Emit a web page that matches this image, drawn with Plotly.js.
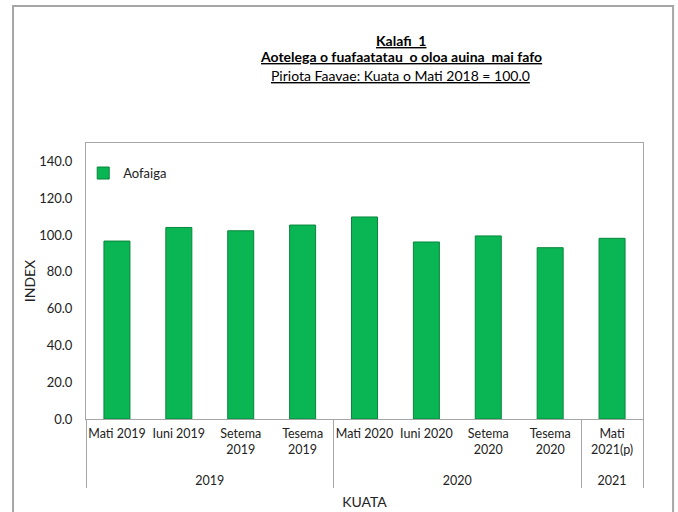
<!DOCTYPE html>
<html><head><meta charset="utf-8">
<script src="https://cdn.plot.ly/plotly-3.0.1.min.js"></script>
<style>body{margin:0;padding:0;background:#fff}#c{width:678px;height:512px}</style>
</head><body><div id="c"></div>
<script>
const years = ["2019","2019","2019","2019","2020","2020","2020","2020","2021"];
const quarters = ["Mati 2019","Iuni 2019","Setema<br>2019","Tesema<br>2019","Mati 2020","Iuni 2020","Setema<br>2020","Tesema<br>2020","Mati<br>2021(p)"];
const values = [96.7, 104.1, 102.3, 105.4, 109.8, 96.2, 99.5, 93.1, 98.2];
const yTicks = [0,20,40,60,80,100,120,140];
const yTickText = yTicks.map(v => v.toFixed(1));

const font = "Lato, 'Open Sans', sans-serif";
// pad every quarter label to three lines so the year row sits lower, as in the reference
const quarterLabels = quarters.map(q => (q.indexOf('<br>') >= 0 ? q + '<br> ' : q + '<br> <br> '));
const trace = {
  type: 'bar',
  x: [years, quarterLabels],
  y: values,
  name: 'Aofaiga',
  width: 0.42,
  marker: {color: '#0ab553', line: {color: '#07863d', width: 1}},
  showlegend: true
};
const layout = {
  width: 678, height: 512,
  margin: {l: 86, r: 35, t: 143, b: 93},
  paper_bgcolor: '#fff', plot_bgcolor: '#fff',
  font: {family: font, size: 12, color: '#222'},
  showlegend: true,
  legend: {x: -0.005, y: 0.891, xanchor: 'left', yanchor: 'middle', bgcolor: 'rgba(0,0,0,0)', font: {size: 13, color: '#222'}, itemwidth: 30},
  xaxis: {
    type: 'multicategory', tickangle: 0, ticklabelstandoff: 3,
    showline: true, linecolor: '#a6a6a6', linewidth: 1, mirror: true,
    showgrid: false, ticks: '', showdividers: true, dividercolor: '#a6a6a6', dividerwidth: 1,
    tickfont: {size: 12.5, color: '#222'},
    title: {text: 'KUATA', font: {size: 14, color: '#222'}, standoff: 10}
  },
  yaxis: {
    range: [0, 150], tickvals: yTicks, ticktext: yTickText,
    showline: true, linecolor: '#a6a6a6', linewidth: 1, mirror: true,
    showgrid: false, zeroline: false, ticks: '', ticklabelstandoff: 10,
    tickfont: {size: 13, color: '#222'},
    title: {text: 'INDEX', font: {size: 14, color: '#222'}, standoff: 0}
  },
  annotations: [
    {xref: 'paper', yref: 'paper', x: 0.565, y: 1.373, xanchor: 'center', yanchor: 'middle', showarrow: false,
     text: '<u><b>Kalafi  1</b></u>', font: {size: 14, color: '#000'}},
    {xref: 'paper', yref: 'paper', x: 0.565, y: 1.312, xanchor: 'center', yanchor: 'middle', showarrow: false,
     text: '<u><b>Aotelega o fuafaatatau  o oloa auina  mai fafo</b></u>', font: {size: 14, color: '#000'}},
    {xref: 'paper', yref: 'paper', x: 0.565, y: 1.246, xanchor: 'center', yanchor: 'middle', showarrow: false,
     text: '<u>Piriota Faavae: Kuata o Mati 2018 = 100.0</u>', font: {size: 14, color: '#000'}}
  ],
  shapes: [
    {type: 'rect', xref: 'paper', yref: 'paper', x0: -0.131, x1: 1.054, y0: -0.4, y1: 1.496,
     line: {color: '#a6a6a6', width: 2}, fillcolor: 'rgba(0,0,0,0)', layer: 'below'}
  ]
};
Plotly.newPlot('c', [trace], layout, {displayModeBar: false, staticPlot: true});
</script></body></html>
